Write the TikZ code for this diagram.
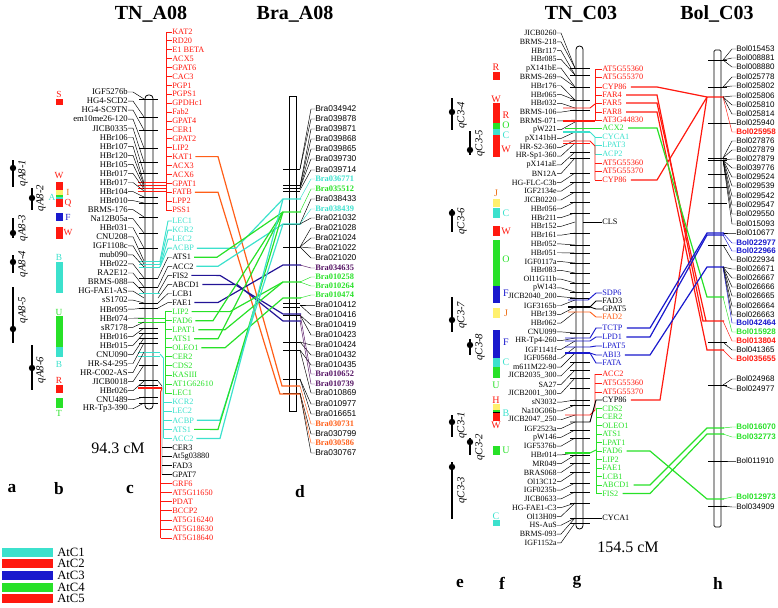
\documentclass[tikz,border=0pt]{standalone}
\usepackage{fontspec}
\setmainfont{Liberation Serif}
\setsansfont{Liberation Sans}
\definecolor{cyc}{RGB}{60,225,205}
\definecolor{rdc}{RGB}{255,25,15}
\definecolor{orc}{RGB}{255,95,25}
\definecolor{blc}{RGB}{25,25,205}
\definecolor{nvc}{RGB}{35,20,150}
\definecolor{grc}{RGB}{40,225,40}
\definecolor{ylc}{RGB}{255,240,110}
\definecolor{puc}{RGB}{85,20,100}
\definecolor{jcc}{RGB}{235,110,20}
\begin{document}
\begin{tikzpicture}[x=0.75pt,y=-0.75pt,
 lab/.style={font=\fontsize{6.5}{7}\selectfont, inner sep=0pt},
 glab/.style={font=\fontsize{6.2}{7}\selectfont, inner sep=0pt, anchor=west},
 clab/.style={font=\fontsize{6}{7}\selectfont, inner sep=0pt, anchor=east},
 blab/.style={font=\sffamily\fontsize{6.3}{7}\selectfont, inner sep=0pt, anchor=west},
 hlab/.style={font=\sffamily\fontsize{6.0}{7}\selectfont, inner sep=0pt, anchor=west},
 ldr/.style={line width=0.35pt},
 chr/.style={line width=0.6pt, fill=white},
 tk/.style={line width=0.75pt},
 cn/.style={line width=0.7pt},
 cx/.style={line width=0.9pt},
 ttl/.style={font=\bfseries\fontsize{15}{17}\selectfont},
 ltr/.style={font=\bfseries\fontsize{13}{15}\selectfont},
 qtl/.style={line width=2.2pt},
 qlab/.style={font=\itshape\fontsize{8}{9}\selectfont, rotate=90, inner sep=0pt},
 blk/.style={inner sep=0pt, font=\fontsize{7}{8}\selectfont}]
\useasboundingbox (0,0) rectangle (778,607);

% titles
\node[ttl] (tA) at (151,14) {TN\_A08};
\node[ttl] (tB) at (295,14) {Bra\_A08};
\node[ttl] (tC) at (581,14) {TN\_C03};
\node[ttl] (tD) at (717,14) {Bol\_C03};

% column a QTL
\foreach \x/\a/\b/\m/\lx/\ly/\t [count=\i] in {13/160/187/168/23/173/qA8-1,32/188/210/198/41/198/qA8-2,13/218/238/233/23/228/qA8-3,13/255/273/262/23/264/qA8-4,13/287/343/329/23/310/qA8-5,32/345/390/368/41/370/qA8-6}{
  \draw[qtl] (\x,\a) -- (\x,\b);
  \fill (\x,\m) circle[radius=2.4pt];
  \node[qlab] (qa\i) at (\lx,\ly) {\t};
}
% column e QTL
\foreach \x/\a/\b/\m/\lx/\ly/\t [count=\i] in {452/98/130/112/462/115/qC3-4,470/131/155/150/480/143/qC3-5,452/209/232/213/462/221/qC3-6,452/297/332/320/462/315/qC3-7,470/339/355/345/480/347/qC3-8,452/415/437/422/462/425/qC3-1,470/438/455/442/480/447/qC3-2,452/462/519/467/462/490/qC3-3}{
  \draw[qtl] (\x,\a) -- (\x,\b);
  \fill (\x,\m) circle[radius=2.4pt];
  \node[qlab] (qe\i) at (\lx,\ly) {\t};
}

% column b blocks
\foreach \c/\a/\b in {rdc/99/105,rdc/182/190,ylc/190/195,grc/195/197,cyc/197/199,rdc/199/207,blc/213/221,rdc/227/239,cyc/262/293,grc/316/347,cyc/347/357,rdc/385/393,grc/398/408}
  \fill[fill=\c] (56,\a) rectangle (63,\b);
\foreach \t/\x/\y/\c [count=\i] in {S/59/94/rdc,W/59/176/rdc,I/68/192/jcc,A/52/197/cyc,Q/68/203/rdc,F/68/217/blc,W/68/233/rdc,B/59/257/cyc,U/59/312/grc,B/59/364/cyc,R/59/380/rdc,T/59/413/grc}
  \node[blk,text=\c] (lb\i) at (\x,\y) {\t};

% column f blocks
\foreach \c/\a/\b in {rdc/72/80,rdc/103/123,grc/123/129,cyc/129/135,rdc/135/157,ylc/199/207,cyc/208/218,rdc/226/236,grc/240/286,blc/286/303,ylc/308/318,blc/330/358,cyc/358/367,grc/367/378,ylc/404/410,grc/410/411.5,black/411.5/413,rdc/413/421,grc/446/455,cyc/520/526}
  \fill[fill=\c] (493,\a) rectangle (500,\b);
\foreach \t/\x/\y/\c [count=\i] in {R/496/67/rdc,W/496/99/rdc,R/506/115/rdc,O/506/125.5/grc,C/506/135/cyc,W/506/149/rdc,J/496/193/jcc,C/506/213/cyc,W/506/231/rdc,O/506/259/grc,F/506/293/blc,J/506/313/jcc,F/506/342/blc,C/506/362/cyc,U/496/385/grc,H/496/400/rdc,B/506/413/cyc,W/496/425/rdc,U/506/450/grc,C/496/516/cyc}
  \node[blk,text=\c,font=\fontsize{7.5}{8}\selectfont] (lf\i) at (\x,\y) {\t};

% ===== chromosome c (TN_A08)
\draw[chr, rounded corners=2.5pt] (145,95) rectangle (153,409);
\foreach \y in {99,117,130,148,162,173,197,203,217,233,248,278,287,303,308,328,333,338,343,365,380,385,397,403}
  \draw[tk] (139,\y) -- (158,\y);
\foreach \y in {182,185,188,191} \draw[cn,rdc] (138,\y) -- (166,\y);
\foreach \y in {261,264,267} \draw[cn,cyc] (139,\y) -- (160,\y);
\draw[cn,cyc] (139,293) -- (160,293);
\foreach \y in {318,322} \draw[cn,grc] (138,\y) -- (165,\y);
\foreach \y in {352,356} \draw[cn,cyc] (138,\y) -- (160,\y);
\draw[rdc, line width=2.2pt] (138,388) -- (162,388);

\foreach \t/\k [count=\i from 0] in {IGF5276b/99,HG4-SCD2/117,HG4-SC9TN/130,em10me26-120/148,JICB0335/162,HBr106/173,HBr107/183,HBr120/185,HBr105/187,HBr017/189,HBr017/191,HBr104/197,HBr010/203,BRMS-176/217,Na12B05a/233,HBr031/248,CNU208/261,IGF1108c/264,mub090/267,HBr022/278,RA2E12/287,BRMS-088/293,HG-FAE1-AS/298,sS1702/303,HBr095/308,HBr074/318,sR7178/322,HBr016/328,HBr015/333,CNU090/338,HR-S4-295/343,HR-C002-AS/352,JICB0018/365,HBr026/381,CNU489/397,HR-Tp3-390/403}{
  \node[lab,anchor=east] (cl\i) at (128,{92+9.05*\i}) {\t};
  \draw[ldr] (cl\i.east) -- ++(5,0) -- (144,\k);
}

% red top genes
\draw[rdc,cn] (166,32) -- (166,210);
\foreach \t [count=\i from 0] in {KAT2,RD20,E1 BETA,ACX5,GPAT6,CAC3,PGP1,PGPS1,GPDHc1,Fab2,GPAT4,CER1,GPAT2,LIP2,KAT1,ACX3,ACX6,GPAT1,FATB,LPP2,PSS1}{
  \node[glab,text=rdc] (ct\i) at (172,{32+8.9*\i}) {\t};
  \draw[rdc,cn] (166,{32+8.9*\i}) -- (ct\i.west);
}
% lower genes
\foreach \t/\c [count=\i from 0] in {LEC1/cyc,KCR2/cyc,LEC2/cyc,ACBP/cyc,ATS1/black,ACC2/black,FIS2/black,ABCD1/black,LCB1/black,FAE1/black,LIP2/grc,FAD6/grc,LPAT1/grc,ATS1/grc,OLEO1/grc,CER2/grc,CDS2/grc,KASIII/grc,AT1G62610/grc,LEC1/grc,KCR2/cyc,LEC2/cyc,ACBP/cyc,ATS1/cyc,ACC2/cyc,CER3/black,At5g03880/black,FAD3/black,GPAT7/black,GRF6/rdc,AT5G11650/rdc,PDAT/rdc,BCCP2/rdc,AT5G16240/rdc,AT5G18630/rdc,AT5G18640/rdc}
  \node[glab,text=\c] (cb\i) at (172,{221+9.06*\i}) {\t};
\foreach \i/\k in {0/261,1/264,2/267,3/267}
  \draw[cyc,cn] (160,\k) -- ([xshift=-3pt]cb\i.west) -- (cb\i.west);
\foreach \i/\k in {4/278,5/287,6/293,7/298,8/303,9/308}
  \draw[ldr] (158,\k) -- ([xshift=-3pt]cb\i.west) -- (cb\i.west);
\draw[ldr] (158,381) -- (162,386) -- (162,474.7);
\foreach \i in {25,...,28} \draw[ldr] (162,{221+9.06*\i}) -- (cb\i.west);
\draw[rdc,cn] (162,388) -- (160.5,392) -- (160.5,538.1);
\foreach \i in {29,...,35} \draw[rdc,cn] (160.5,{221+9.06*\i}) -- (cb\i.west);
\draw[cyc,cn] (160,354) -- (163.5,358) -- (163.5,438.4);
\foreach \i in {20,...,24} \draw[cyc,cn] (163.5,{221+9.06*\i}) -- (cb\i.west);
\draw[grc,cn] (165,311.6) -- (165,393.1);
\foreach \i in {10,...,19} \draw[grc,cn] (165,{221+9.06*\i}) -- (cb\i.west);

% ===== chromosome d (Bra_A08)
\draw[chr] (289,96) rectangle (296,411);
\foreach \y in {169,185,188,191,224,247,303,307,315,342,350,379,393}
  \draw[tk] (283,\y) -- (300,\y);

% crossings c -> d
\draw[orc,cx] ([xshift=2pt]ct14.east) -- (218,156.6) -- (282,386) -- (300,386);
\draw[orc,cx] ([xshift=2pt]ct18.east) -- (218,192.2) -- (280,394) -- (300,394);
\draw[cyc,cx] ([xshift=2pt]cb3.east) -- (236,248.2) -- (283,199) -- (301,199);
\draw[grc,cx] ([xshift=2pt]cb4.east) -- (217,257.2) -- (283,212) -- (301,212);
\draw[cyc,cx] ([xshift=2pt]cb5.east) -- (218,266.3) -- (283,224) -- (301,224);
\draw[nvc,cx] ([xshift=2pt]cb6.east) -- (220,275.4) -- (283,314) -- (301,314);
\draw[nvc,cx] ([xshift=2pt]cb7.east) -- (237,284.4) -- (283,321) -- (301,321);
\draw[nvc,cx] ([xshift=2pt]cb9.east) -- (218,302.5) -- (283,265) -- (301,265);
\draw[grc,cx] ([xshift=2pt]cb10.east) -- (230,311.6) -- (283,282) -- (301,282);
\draw[grc,cx] ([xshift=2pt]cb11.east) -- (213,320.7) -- (283,212);
\draw[grc,cx] ([xshift=2pt]cb12.east) -- (225,329.7) -- (283,282);
\draw[grc,cx] ([xshift=2pt]cb13.east) -- (218,338.8) -- (283,212);
\draw[grc,cx] ([xshift=2pt]cb14.east) -- (225,347.8) -- (283,298) -- (301,298);
\draw[cyc,cx] ([xshift=2pt]cb22.east) -- (220,420.3) -- (283,224);
\draw[grc,cx] ([xshift=2pt]cb23.east) -- (218,429.4) -- (283,212);
\draw[cyc,cx] ([xshift=2pt]cb24.east) -- (220,438.4) -- (283,199);

\foreach \t/\y/\k/\c/\f [count=\i from 0] in {Bra034942/109/169/black/N,Bra039878/119/169/black/N,Bra039871/129/186/black/N,Bra039868/139/186/black/N,Bra039865/149/188/black/N,Bra039730/159/188/black/N,Bra039714/170/190/black/N,Bra036771/179/199/cyc/B,Bra035512/189/212/grc/B,Bra038433/199/224/black/N,Bra038439/209/224/cyc/B,Bra021032/218/224/black/N,Bra021028/228/247/black/N,Bra021024/238/247/black/N,Bra021022/248/247/black/N,Bra021020/258/247/black/N,Bra034635/268/265/puc/B,Bra010258/277/282/grc/B,Bra010264/286/282/grc/B,Bra010474/295/298/grc/B,Bra010412/305/305/black/N,Bra010416/315/305/black/N,Bra010419/325/315/black/N,Bra010423/335/315/black/N,Bra010424/345/342/black/N,Bra010432/355/342/black/N,Bra010435/365/350/black/N,Bra010652/374/314/puc/B,Bra010739/384/321/puc/B,Bra010869/393/350/black/N,Bra010977/404/379/black/N,Bra016651/414/379/black/N,Bra030731/424/386/orc/B,Bra030799/434/393/black/N,Bra030586/443/394/orc/B,Bra030767/453/393/black/N}{
  \node[blab,text=\c] (d\i) at (315,\y) {\if\f B\rmfamily\bfseries\fi\t};
  \draw[ldr,draw=\c] (d\i.west) -- ++(-4,0) -- (300,\k);
}

% ===== chromosome g (TN_C03)
\draw[chr, rounded corners=2.5pt] (576,46) rectangle (583,529);
\foreach \y in {68,75,87,100,110,152,158,173,182,192,202,213,233,245,253,263,273,283,292,298,333,362,370,378,388,400,405,430,438,455,463,472,483,492,503,518,523}
  \draw[tk] (570,\y) -- (590,\y);
\foreach \t/\k [count=\i from 0] in {JICB0260/68,BRMS-218/68,HBr117/75,HBr085/75,pX141bE/87,BRMS-269/87,HBr176/100,HBr065/100,HBr032/108,BRMS-106/110,BRMS-071/120,pW221/122,pX141bH/132,HR-S2-360/140,HR-Sp1-360/143,pX141aE/152,BN12A/158,HG-FLC-C3b/173,IGF2134e/182,JICB0220/192,HBr056/202,HBr211/213,HBr152/222,HBr161/233,HBr052/245,HBr051/253,IGF0117a/263,HBr083/273,Ol11G11b/283,pW143/292,JICB2040\_200/298,IGF3165b/300,HBr139/307,HBr062/312,CNU099/333,HR-Tp4-260/338,IGF1141f/341,IGF0568d/347,m611M22-90/353,JICB2035\_300/362,SA27/370,JICB2001\_300/378,sN3032/400,Na10G06b/405,JICB2047\_250/415,IGF2523a/422,pW146/430,IGF5376b/438,HBr014/453,MR049/455,BRAS068/463,Ol13C12/472,IGF0235b/483,JICB0633/492,HG-FAE1-C3/503,Ol13H09/503,HS-AuS/518,BRMS-093/518,IGF1152a/523}{
  \node[clab] (gl\i) at (557,{33+8.79*\i}) {\t};
  \draw[ldr] (gl\i.east) -- ++(4,0) -- (575,\k);
}
% right labels of g
\foreach \t/\y/\c [count=\i from 0] in {AT5G55360/69/rdc,AT5G55370/77/rdc,CYP86/87/rdc,FAR4/95/rdc,FAR5/103/rdc,FAR8/112/rdc,AT3G44830/120/rdc,ACX2/128/grc,CYCA1/137/cyc,LPAT3/145/cyc,ACP2/154/cyc,AT5G55360/163/rdc,AT5G55370/171/rdc,CYP86/180/rdc,CLS/222/black,SDP6/293/blc,FAD3/301/black,GPAT5/309/black,FAD2/317/orc,TCTP/328/blc,LPD1/337/blc,LPAT5/346/blc,ABI3/355/blc,FATA/363/blc,ACC2/374/rdc,AT5G55360/383/rdc,AT5G55370/392/rdc,CYP86/400/black,CDS2/408.5/grc,CER2/417/grc,OLEO1/425.5/grc,ATS1/434/grc,LPAT1/442.5/grc,FAD6/451/grc,LIP2/459.5/grc,FAE1/468/grc,LCB1/476.5/grc,ABCD1/485/grc,FIS2/493.5/grc,CYCA1/518/black}
  \node[glab,text=\c] (gr\i) at (602,\y) {\t};
% colored rungs on g
\draw[rdc,cn] (563,108) -- (590,108) -- (595,104);
\draw[rdc,line width=1.8pt] (563,121) -- (595,121);
\draw[rdc,cn] (595,69) -- (595,121);
\foreach \i in {0,...,6} \draw[rdc,cn] ([xshift=-5.25pt]gr\i.west) -- (gr\i.west);
\draw[grc,cn] (565,128) -- (gr7.west);
\draw[cyc,line width=1.8pt] (563,132) -- (590,132);
\draw[cyc,cn] (590,132) -- (595,137) -- (595,154);
\foreach \i in {8,9,10} \draw[cyc,cn] ([xshift=-5.25pt]gr\i.west) -- (gr\i.west);
\draw[rdc,cn] (563,141) -- (590,141) -- (595,146) -- (595,180);
\draw[rdc,cn] (563,143.5) -- (590,143.5);
\foreach \i in {11,12,13} \draw[rdc,cn] ([xshift=-5.25pt]gr\i.west) -- (gr\i.west);
\draw[cn] (583,222) -- (gr14.west);
\draw[blc,cn] (568,300) -- (588,300) -- (596,293) -- (gr15.west);
\draw[line width=1.5pt] (568,307) -- (590,307);
\draw[cn] (590,307) -- (596,301) -- (gr16.west);
\draw[cn] (590,307) -- (596,309) -- (gr17.west);
\draw[orc,cn] (568,312) -- (590,312) -- (596,317) -- (gr18.west);
\draw[blc,cn] (565,338) -- (590,338) -- (596,328) -- (gr19.west);
\draw[blc,cn] (565,341) -- (590,341) -- (596,337) -- (gr20.west);
\draw[blc,cn] (565,347) -- (590,347) -- (596,346) -- (gr21.west);
\draw[blc,line width=1.6pt] (565,353) -- (590,353);
\draw[blc,cn] (590,353) -- (596,355) -- (gr22.west);
\draw[blc,cn] (590,353) -- (596,363) -- (gr23.west);
\draw[rdc,cn] (565,415) -- (590,415) -- (595,410) -- (595,374);
\foreach \i in {24,25,26} \draw[rdc,cn] ([xshift=-5.25pt]gr\i.west) -- (gr\i.west);
\draw[cn] (570,422) -- (590,422) -- (596,400) -- (gr27.west);
\draw[grc,line width=1.3pt] (565,453) -- (590,453);
\draw[grc,cn] (590,453) -- (596,450);
\draw[grc,cn] (596,408.5) -- (596,493.5);
\foreach \i in {28,...,38} \draw[grc,cn] ([xshift=-4.5pt]gr\i.west) -- (gr\i.west);
\draw[cn] (583,518) -- (gr39.west);

% ===== chromosome h (Bol_C03)
\draw[chr, rounded corners=1pt] (714,50) rectangle (721,527);
\foreach \y in {60,87,123,158,160,174,187,203,245,342,385,461,506}
  \draw[tk] (708,\y) -- (727,\y);

% crossings g -> h
\draw[rdc,cx] ([xshift=3pt]gr2.east) -- (657,87) -- (707,97) -- (724,97);
\draw[rdc,cx] ([xshift=3pt]gr13.east) -- (657,180) -- (707,97);
\draw[rdc,cx] ([xshift=3pt]gr27.east) -- (660,400) -- (707,97);
\draw[rdc,cx] ([xshift=3pt]gr3.east) -- (657,95) -- (703,321) -- (724,321);
\draw[rdc,cx] ([xshift=3pt]gr4.east) -- (657,103) -- (706,321);
\draw[rdc,cx] ([xshift=3pt]gr5.east) -- (657,112) -- (707,350) -- (724,350);
\draw[grc,cx] ([xshift=3pt]gr7.east) -- (657,128) -- (707,297) -- (724,297);
\draw[blc,cx] ([xshift=3pt]gr19.east) -- (650,328) -- (707,233) -- (724,233);
\draw[blc,cx] ([xshift=3pt]gr20.east) -- (650,337) -- (707,235) -- (724,235);
\draw[blc,cx] ([xshift=3pt]gr22.east) -- (650,355) -- (707,267) -- (724,267);
\draw[grc,cx] ([xshift=3pt]gr33.east) -- (650,451) -- (707,499) -- (724,499);
\draw[grc,cx] ([xshift=3pt]gr37.east) -- (650,485) -- (707,428) -- (724,428);
\draw[grc,cx] ([xshift=3pt]gr38.east) -- (650,493.5) -- (707,434) -- (724,434);

\foreach \t/\y/\k/\c/\f [count=\i from 0] in {Bol015453/49/60/black/N,Bol008881/58/60/black/N,Bol008880/67/60/black/N,Bol025778/77/87/black/N,Bol025802/86/87/black/N,Bol025806/96/97/black/N,Bol025810/105/97/black/N,Bol025814/114/97/black/N,Bol025940/123/123/black/N,Bol025958/132/97/rdc/B,Bol027876/141/158/black/N,Bol027879/150/158/black/N,Bol027879/159/160/black/N,Bol039776/168/160/black/N,Bol029524/177/160/black/N,Bol029539/186/160/black/N,Bol029542/196/160/black/N,Bol029547/205/160/black/N,Bol029550/214/160/black/N,Bol015093/224/160/black/N,Bol010677/233/233/black/N,Bol022977/243/233/blc/B,Bol022966/251/235/blc/B,Bol022934/260/245/black/N,Bol026671/269/267/black/N,Bol026667/278/267/black/N,Bol026666/287/267/black/N,Bol026665/296/267/black/N,Bol026664/306/267/black/N,Bol026663/315/267/black/N,Bol042464/323/267/blc/B,Bol015928/332/297/grc/B,Bol013804/341/321/rdc/B,Bol041365/350/342/black/N,Bol035655/359/350/rdc/B,Bol024968/379/385/black/N,Bol024977/389/385/black/N,Bol016070/427/428/grc/B,Bol032773/437/434/grc/B,Bol011910/461/461/black/N,Bol012973/497/499/grc/B,Bol034909/507/506/black/N}{
  \node[hlab,text=\c] (h\i) at (736,\y) {\if\f B\bfseries\fi\t};
  \draw[ldr,draw=\c] (h\i.west) -- ++(-4,0) -- (723,\k);
}

% bottom letters, scales
\foreach \t/\x/\y in {a/12/489,b/59/489,c/130/489,d/300/492,e/460/583,f/502/583,g/577/582,h/718/583}
  \node[ltr] (L\t) at (\x,\y) {\t};
\node[font=\fontsize{12}{14}\selectfont] (cm1) at (118,448) {94.3 cM};
\node[font=\fontsize{12}{14}\selectfont] (cm2) at (628,547) {154.5 cM};

% legend
\foreach \t/\c/\y in {AtC1/cyc/552,AtC2/rdc/563,AtC3/blc/575,AtC4/grc/587,AtC5/rdc/598}{
  \fill[fill=\c] (2,{\y-4.5}) rectangle (53,{\y+4.5});
  \node[anchor=west, font=\fontsize{9.5}{10}\selectfont, inner sep=0pt] (lg\t) at (57,\y) {\t};
}
\end{tikzpicture}
\end{document}
